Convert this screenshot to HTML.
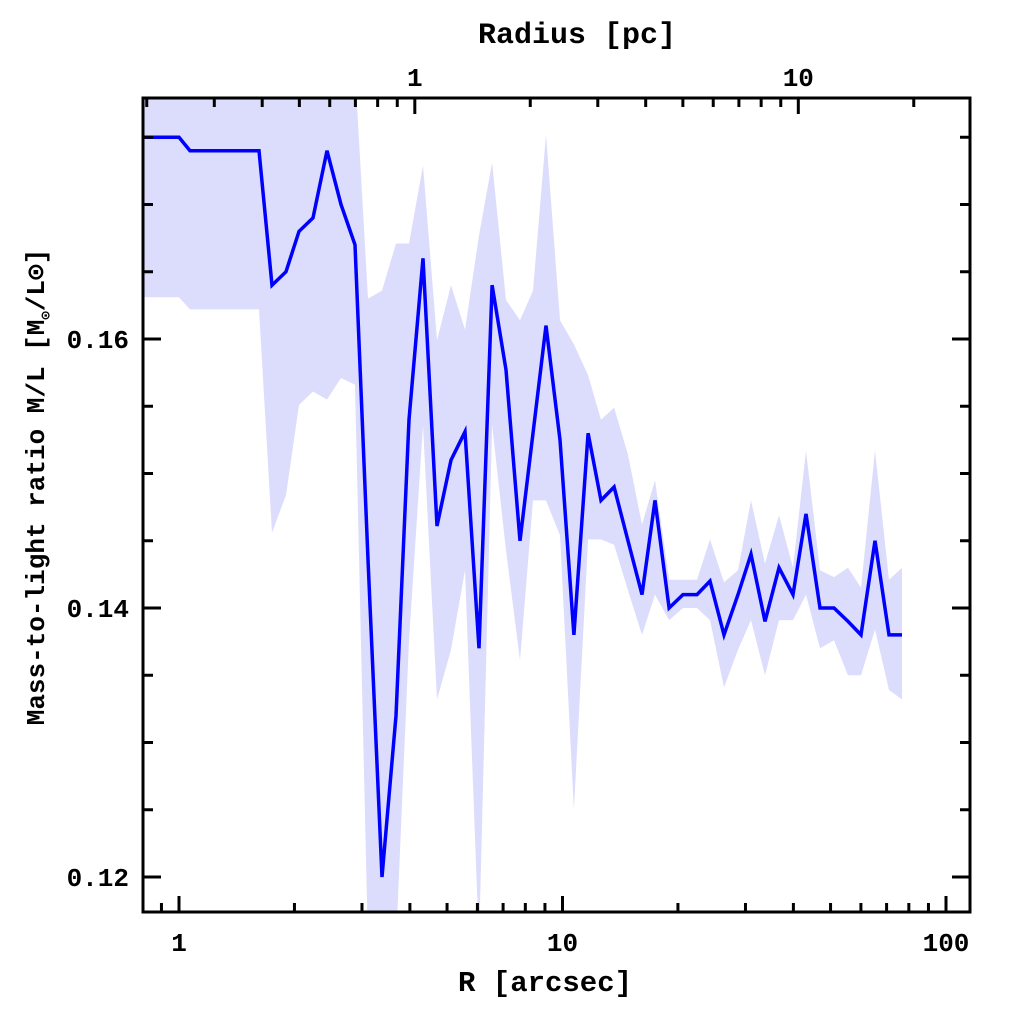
<!DOCTYPE html>
<html><head><meta charset="utf-8"><style>
html,body{margin:0;padding:0;background:#fff;}
svg text{font-family:"Liberation Mono","DejaVu Sans Mono",monospace;font-weight:bold;fill:#000;}
</style></head><body>
<svg id="chart" width="1024" height="1024" viewBox="0 0 1024 1024" xmlns="http://www.w3.org/2000/svg">
<defs><clipPath id="plotclip"><rect x="143" y="98" width="827" height="814"/></clipPath></defs>
<g id="band" clip-path="url(#plotclip)"></g>
<g id="line" clip-path="url(#plotclip)"></g>
<g id="ticks"></g>
<rect x="143" y="98" width="827" height="814" fill="none" stroke="#000" stroke-width="3"/>
<text x="545" y="991" font-size="29" text-anchor="middle">R [arcsec]</text>
<text x="577" y="43" font-size="30" text-anchor="middle">Radius [pc]</text>
<text transform="translate(44,487) rotate(-90)" font-size="26" text-anchor="middle">Mass-to-light ratio M/L [M<tspan font-size="14" dy="6">⊙</tspan><tspan dy="-6">/L⊙]</tspan></text>
</svg>
<script>
const radiusArcsec=[0.806,1.0,1.068,1.617,1.748,1.901,2.055,2.236,2.432,2.645,2.877,3.111,3.384,3.680,3.978,4.327,4.708,5.121,5.570,6.058,6.551,7.125,7.750,8.378,9.057,9.851,10.71,11.66,12.60,13.63,14.82,16.12,17.43,18.96,20.62,22.42,24.25,26.37,28.68,31.01,33.73,36.68,39.90,43.15,46.93,51.05,55.53,60.03,65.29,71.01,76.79];
const mlValues=[0.175,0.175,0.174,0.174,0.164,0.165,0.168,0.169,0.174,0.170,0.167,0.1436,0.120,0.132,0.154,0.166,0.1461,0.151,0.1531,0.137,0.164,0.1577,0.145,0.153,0.161,0.1525,0.138,0.153,0.148,0.149,0.145,0.141,0.148,0.140,0.141,0.141,0.142,0.138,0.141,0.144,0.139,0.143,0.141,0.147,0.140,0.140,0.139,0.138,0.145,0.138,0.138];
const upperValues=[0.185,0.185,0.185,0.185,0.185,0.185,0.185,0.185,0.185,0.185,0.180,0.163,0.1636,0.1671,0.1671,0.1729,0.1599,0.164,0.1607,0.1677,0.1731,0.1629,0.1614,0.1636,0.1752,0.1614,0.1596,0.1573,0.154,0.1549,0.1514,0.1462,0.1495,0.1421,0.1421,0.1421,0.1451,0.1419,0.1428,0.148,0.1433,0.1469,0.143,0.1517,0.1428,0.1423,0.143,0.1415,0.1517,0.1421,0.143];
const lowerValues=[0.1631,0.1631,0.1622,0.1622,0.1456,0.1484,0.1551,0.1561,0.1555,0.1571,0.1566,0.115,0.115,0.115,0.1376,0.1536,0.1332,0.1369,0.1428,0.115,0.1536,0.1443,0.1361,0.148,0.148,0.1454,0.125,0.1451,0.1451,0.1447,0.1413,0.138,0.141,0.1391,0.140,0.140,0.1391,0.1341,0.1369,0.1391,0.135,0.1391,0.1391,0.141,0.137,0.1376,0.135,0.135,0.1384,0.1339,0.1332];
const yTickLabels=["0.12","0.14","0.16"];
const yTickValues=[0.12,0.14,0.16];
const xTickLabels=["1","10","100"];
const xTickValues=[1,10,100];
const pcTickLabels=["1","10"];
const pcTickValues=[1,10];
const arcsecPerPc=4.12;

const NS="http://www.w3.org/2000/svg";
const X0=179, DEC=383.5;
function xs(r){return X0+Math.log10(r)*DEC;}
function ys(v){return 339-(v-0.16)/0.02*269;}
function mk(tag,attrs,parent){const e=document.createElementNS(NS,tag);for(const k in attrs)e.setAttribute(k,attrs[k]);parent.appendChild(e);return e;}

const band=document.getElementById('band');
let d="";
radiusArcsec.forEach((r,i)=>{d+=(i?"L":"M")+xs(r).toFixed(1)+","+ys(upperValues[i]).toFixed(1);});
for(let i=radiusArcsec.length-1;i>=0;i--){d+="L"+xs(radiusArcsec[i]).toFixed(1)+","+ys(lowerValues[i]).toFixed(1);}
const bp=mk('path',{d:d+"Z",fill:"#dcdcfc",stroke:"none"},band);



const line=document.getElementById('line');
const pts=radiusArcsec.map((r,i)=>xs(r).toFixed(1)+","+ys(mlValues[i]).toFixed(1)).join(" ");
const pl=mk('polyline',{points:pts,fill:"none",stroke:"#0000ff","stroke-width":3.5,"stroke-linejoin":"miter"},line);



const tg=document.getElementById('ticks');
const L=143,R=970,T=98,B=912;
function tick(x1,y1,x2,y2){mk('line',{x1:x1,y1:y1,x2:x2,y2:y2,stroke:"#000","stroke-width":3},tg);}
for(let k=0;k<=12;k++){const v=0.115+k*0.005;const y=ys(v);if(y<T+2||y>B-2)continue;const major=Math.abs((v*100)%2)<1e-6||Math.abs((v*100)%2-2)<1e-6;const len=major?18:10;tick(L,y,L+len,y);tick(R,y,R-len,y);}
yTickValues.forEach((v,i)=>{const t=mk('text',{x:129,y:ys(v)+9,"font-size":26,"text-anchor":"end"},tg);t.textContent=yTickLabels[i];

});
for(let dec=0.1;dec<=100;dec*=10){for(let m=1;m<=9;m++){const r=dec*m;const x=xs(r);if(x<L+2||x>R-2)continue;const len=m===1?16:9;tick(x,B,x,B-len);}}
xTickValues.forEach((v,i)=>{const t=mk('text',{x:xs(v),y:951,"font-size":26,"text-anchor":"middle"},tg);t.textContent=xTickLabels[i];

});
for(let dec=0.1;dec<=100;dec*=10){for(let m=1;m<=9;m++){const p=dec*m;const x=xs(p*arcsecPerPc);if(x<L+2||x>R-2)continue;const len=m===1?16:9;tick(x,T,x,T+len);}}
pcTickValues.forEach((v,i)=>{const t=mk('text',{x:xs(v*arcsecPerPc),y:86,"font-size":26,"text-anchor":"middle"},tg);t.textContent=pcTickLabels[i];

});
</script>
</body></html>
